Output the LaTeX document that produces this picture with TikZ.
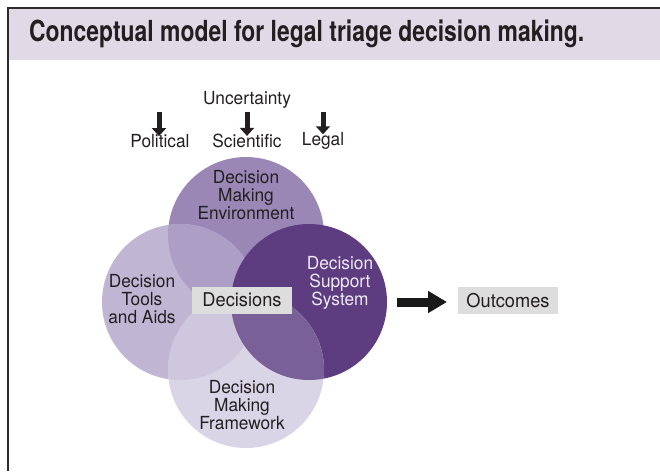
\documentclass[tikz,border=0pt]{standalone}
\usepackage{fontspec}
\setmainfont{TeX Gyre Heros}[FakeStretch=0.96]
\newfontfamily\titlefont{TeX Gyre Heros}[FakeStretch=0.79]
\usetikzlibrary{arrows.meta}
\definecolor{framegray}{RGB}{45,45,45}
\definecolor{headband}{RGB}{224,218,231}
\definecolor{txt}{RGB}{35,31,32}
\definecolor{envfill}{RGB}{154,135,182}
\definecolor{toolfill}{RGB}{192,182,212}
\definecolor{envtool}{RGB}{173,158,197}
\definecolor{dssfill}{RGB}{94,60,128}
\definecolor{frmfill}{RGB}{218,212,231}
\definecolor{frmtool}{RGB}{207,199,222}
\definecolor{frmdss}{RGB}{122,96,153}
\definecolor{boxgray}{RGB}{221,221,222}
\definecolor{dsstext}{RGB}{238,234,243}
\tikzset{
  lbl/.style={font=\fontsize{18}{18}\selectfont, text=txt, align=center, inner sep=0pt},
  grayboxed/.style={lbl, font=\fontsize{19}{19}\selectfont, fill=boxgray, minimum height=27pt, inner xsep=6pt},
  smallarrow/.style={-{Triangle[length=8pt,width=14pt]}, line width=5pt, draw=txt},
  bigarrow/.style={-{Triangle[length=19pt,width=21pt]}, line width=9pt, draw=black!90},
}
\begin{document}
\begin{tikzpicture}[x=1pt,y=-1pt]
\useasboundingbox (0,0) rectangle (660,471);
% header band and frame
\fill[headband] (8,8) rectangle (660,60);
\draw[framegray, line width=2.5pt] (8,471) -- (8,8) -- (660,8);
\node[font=\titlefont\bfseries\fontsize{29}{32}\selectfont, text=txt, anchor=west, inner sep=0pt] (title) at (29,34) {Conceptual model for legal triage decision making.};

% circle centres
\coordinate (cE) at (246,235);
\coordinate (cT) at (180,302);
\coordinate (cS) at (309,302);
\coordinate (cF) at (246,370);
\def\rr{78}

% environment and tools circles with their overlap
\fill[envfill] (cE) circle (\rr);
\fill[toolfill] (cT) circle (\rr);
\begin{scope}
  \clip (cE) circle (\rr);
  \fill[envtool] (cT) circle (\rr);
\end{scope}
% decision support system circle
\fill[dssfill] (cS) circle (\rr);
% framework circle and its overlaps
\fill[frmfill] (cF) circle (\rr);
\begin{scope}
  \clip (cF) circle (\rr);
  \fill[frmtool] (cT) circle (\rr);
  \fill[frmdss] (cS) circle (\rr);
\end{scope}

% circle labels
\node[lbl] (env) at (246,195) {Decision\\Making\\Environment};
\node[lbl] (tools) at (142,299) {Decision\\Tools\\and Aids};
\node[lbl, text=dsstext] (dss) at (340,283) {Decision\\Support\\System};
\node[lbl] (frame) at (242,405) {Decision\\Making\\Framework};
\node[grayboxed, minimum width=100pt] (dec) at (242,300) {Decisions};

% uncertainty sources
\node[lbl] (unc) at (247,100) {Uncertainty};
\node[lbl] (pol) at (160,141) {Political};
\node[lbl] (sci) at (247,141) {Scientific};
\node[lbl] (leg) at (323,141) {Legal};
\coordinate (aP) at (159,112);
\coordinate (aS) at (247,112);
\coordinate (aL) at (323,112);
\draw[smallarrow] (aP) -- ([yshift=-2pt]aP |- pol.north);
\draw[smallarrow] (aS) -- ([yshift=-2pt]aS |- sci.north);
\draw[smallarrow] (aL) -- ([yshift=-2pt]aL |- leg.north);

% outcome
\node[grayboxed, minimum width=100pt] (out) at (508,300.5) {Outcomes};
\coordinate (arrStart) at (397,302);
\coordinate (arrEnd) at (447,302);
\draw[bigarrow] (arrStart) -- (arrEnd);
\end{tikzpicture}
\end{document}
